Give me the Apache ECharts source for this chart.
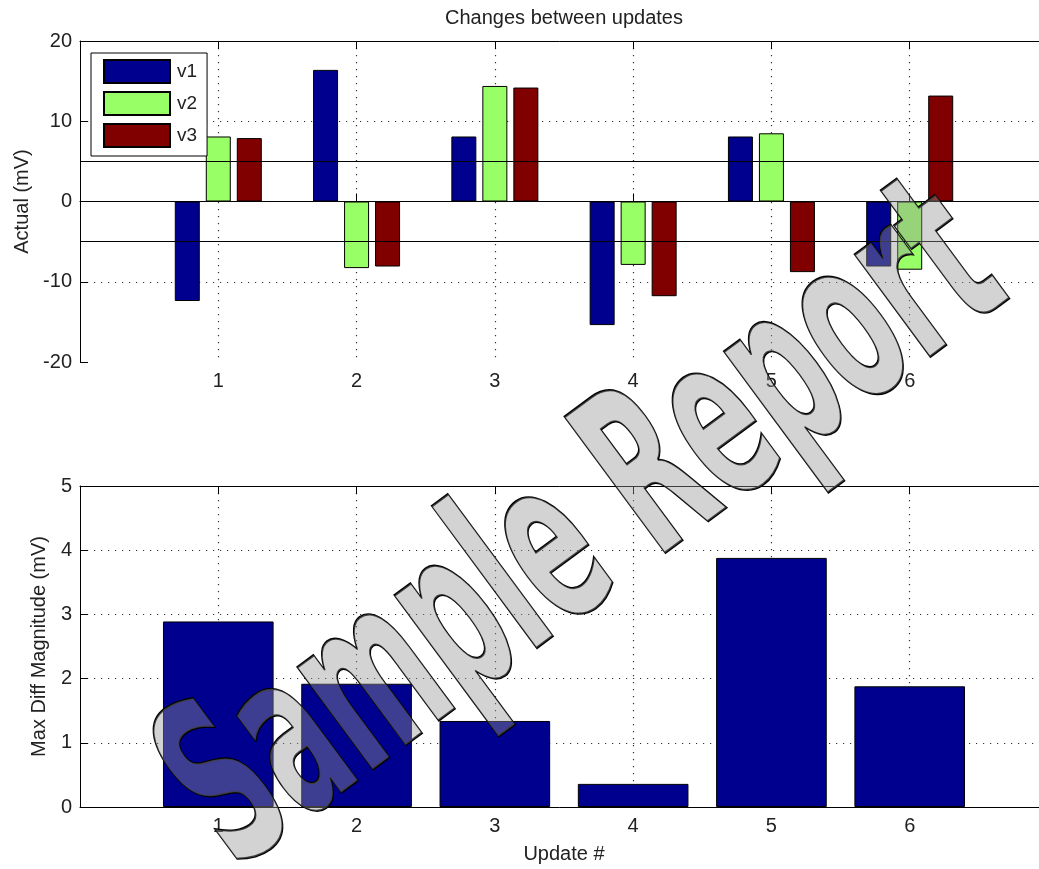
<!DOCTYPE html>
<html>
<head>
<meta charset="utf-8">
<title>Changes between updates</title>
<script src="https://cdn.jsdelivr.net/npm/echarts@6/dist/echarts.min.js"></script>
<style>
  html, body { margin: 0; padding: 0; background: #ffffff; }
  #chart { width: 1039px; height: 869px; }
</style>
</head>
<body>
<div id="chart"></div>
<script>
// Update numbers shown on both x axes
const categories = ['1', '2', '3', '4', '5', '6'];

// Actual change per channel (mV)
const seriesNames = ['v1', 'v2', 'v3'];
const v1 = [-12.4, 16.4, 8.1, -15.4, 8.1, -8.1];
const v2 = [8.1, -8.3, 14.4, -7.9, 8.5, -8.5];
const v3 = [7.9, -8.1, 14.2, -11.8, -8.8, 13.2];

// Largest difference magnitude per update (mV)
const maxDiff = [2.89, 1.92, 1.34, 0.36, 3.88, 1.88];

// Tick labels of the two value axes
const actualTicks = [-20, -10, 0, 10, 20];
const diffTicks = [0, 1, 2, 3, 4, 5];

// Reference lines drawn across the upper plot
const refLines = [5, 0, -5];

const colors = ['#00008f', '#99ff66', '#800000'];
const FONT = '"Liberation Sans", Arial, Helvetica, sans-serif';
const TEXT = '#222';

// category i sits at x = i + 1, axis runs from 0 to n + 1
const xs = categories.map((c, i) => i + 1);
const xMax = categories.length + 1;
const pair = arr => arr.map((v, i) => [xs[i], v]);
const catLabel = v => (v >= 1 && v <= categories.length) ? categories[v - 1] : '';

const dotted = { show: true, showMinLine: false, showMaxLine: false,
  lineStyle: { color: '#333', width: 1.2, type: [1.2, 5.8] } };

function xAxisPair(gridIndex, name) {
  return [
    { type: 'value', gridIndex, position: 'bottom', min: 0, max: xMax, interval: 1,
      name: name || '', nameLocation: 'middle', nameGap: 37,
      nameTextStyle: { fontFamily: FONT, fontSize: 20, color: TEXT },
      axisLine: { show: true, lineStyle: { color: '#000', width: 1 } },
      axisTick: { show: true, inside: true, length: 8, lineStyle: { color: '#000' } },
      axisLabel: { formatter: catLabel, margin: 9, fontFamily: FONT, fontSize: 20, color: TEXT },
      splitLine: dotted },
    { type: 'value', gridIndex, position: 'top', min: 0, max: xMax, interval: 1,
      axisLine: { show: true, lineStyle: { color: '#000', width: 1 } },
      axisTick: { show: true, inside: true, length: 8, lineStyle: { color: '#000' } },
      axisLabel: { show: false }, splitLine: { show: false } }
  ];
}

function yAxis(gridIndex, ticks, name, gap) {
  return {
    type: 'value', gridIndex,
    min: ticks[0], max: ticks[ticks.length - 1], interval: ticks[1] - ticks[0],
    name, nameLocation: 'middle', nameGap: gap, nameRotate: 90,
    nameTextStyle: { fontFamily: FONT, fontSize: 20, color: TEXT },
    axisLine: { show: true, lineStyle: { color: '#000', width: 1 } },
    axisTick: { show: true, inside: true, length: 8, lineStyle: { color: '#000' } },
    axisLabel: { margin: 8, fontFamily: FONT, fontSize: 20, color: TEXT },
    splitLine: dotted
  };
}

const barStyle = c => ({ color: c, borderColor: '#000', borderWidth: 1 });

const channelSeries = [v1, v2, v3].map((vals, k) => ({
  name: seriesNames[k], type: 'bar', xAxisIndex: 0, yAxisIndex: 0,
  data: pair(vals), barWidth: 25, barGap: '24%',
  itemStyle: barStyle(colors[k])
}));

// thresholds and zero baseline on top of the bars
channelSeries[2].markLine = {
  silent: true, symbol: ['none', 'none'], z: 5, animation: false,
  label: { show: false },
  lineStyle: { color: '#000', width: 1, type: 'solid' },
  data: refLines.map(v => ({ yAxis: v }))
};

const chart = echarts.init(document.getElementById('chart'), null, { renderer: 'canvas' });
chart.setOption({
  animation: false,
  backgroundColor: '#ffffff',
  grid: [
    { left: 80, top: 41, width: 968, height: 321, containLabel: false, outerBoundsMode: 'none' },
    { left: 80, top: 486, width: 968, height: 321, containLabel: false, outerBoundsMode: 'none' }
  ],
  xAxis: [...xAxisPair(0), ...xAxisPair(1, 'Update #')],
  yAxis: [
    yAxis(0, actualTicks, 'Actual (mV)', 45),
    yAxis(1, diffTicks, 'Max Diff Magnitude (mV)', 27)
  ],
  legend: {
    data: seriesNames, orient: 'vertical', left: 91, top: 53,
    itemWidth: 66, itemHeight: 23, itemGap: 7,
    padding: [6, 10, 8, 12],
    backgroundColor: '#fff', borderColor: '#000', borderWidth: 1, borderRadius: 0,
    icon: 'rect',
    textStyle: { fontFamily: FONT, fontSize: 19, color: TEXT, padding: [0, 0, 0, 2] }
  },
  graphic: [
    { type: 'text', x: 564, y: 8, silent: true,
      style: { text: 'Changes between updates', align: 'center', verticalAlign: 'top',
               fontFamily: FONT, fontSize: 20, fill: TEXT } },
    { type: 'text', x: 588, y: 535, z: 100, silent: true,
      rotation: 36.5 * Math.PI / 180, scaleX: 0.5, scaleY: 1,
      style: { text: 'Sample Report', x: 0, y: 0, align: 'center', verticalAlign: 'middle',
               fontFamily: '"DejaVu Sans", sans-serif', fontWeight: 'bold', fontSize: 232,
               fill: 'rgba(147,147,147,0.41)', stroke: '#000', lineWidth: 2.6 } }
  ],
  series: [
    ...channelSeries,
    { name: 'Max Diff', type: 'bar', xAxisIndex: 2, yAxisIndex: 1,
      data: pair(maxDiff), barWidth: '80%', itemStyle: barStyle(colors[0]) }
  ]
});
</script>
</body>
</html>
